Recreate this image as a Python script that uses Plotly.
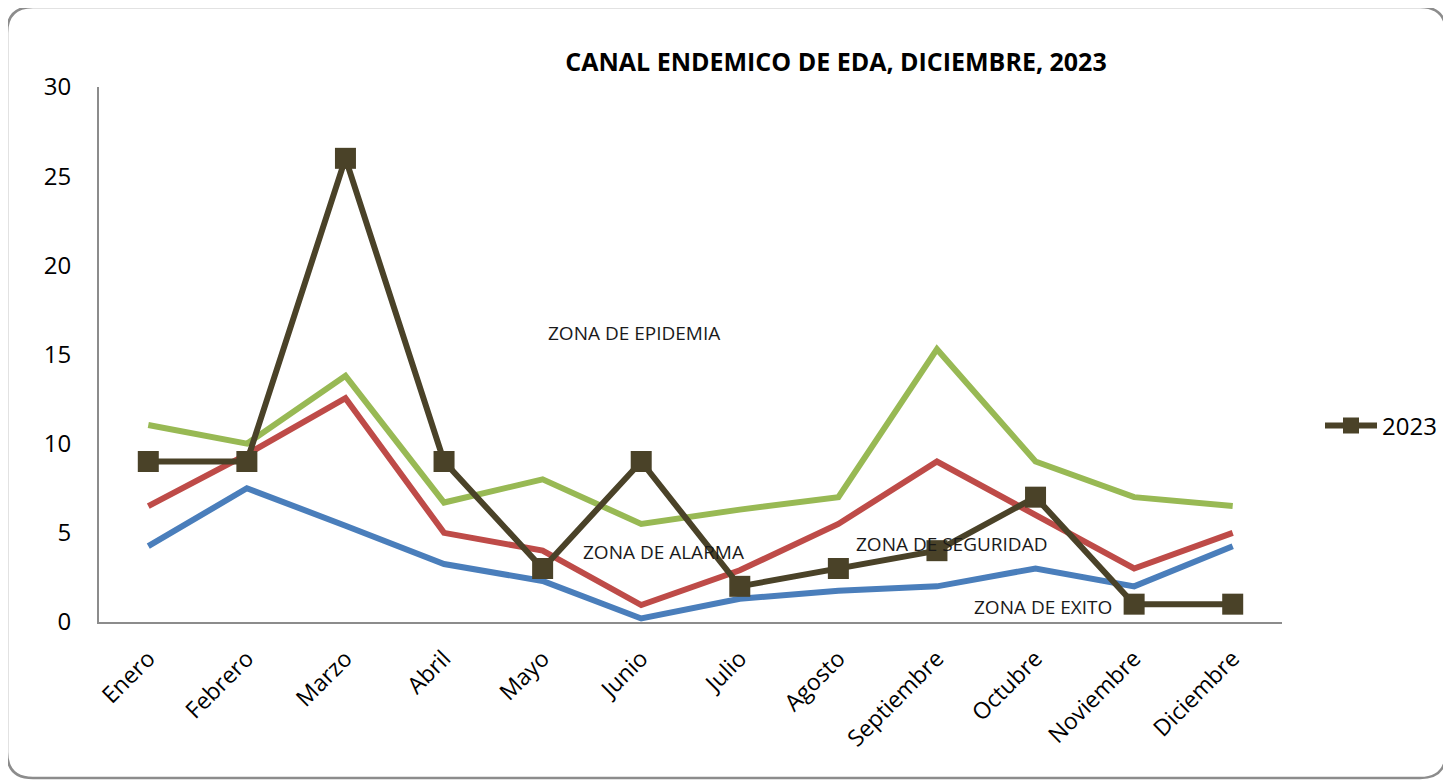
import plotly.graph_objects as go

meses = ["Enero", "Febrero", "Marzo", "Abril", "Mayo", "Junio", "Julio",
         "Agosto", "Septiembre", "Octubre", "Noviembre", "Diciembre"]
zona_exito = [4.25, 7.5, 5.4, 3.25, 2.3, 0.2, 1.3, 1.75, 2.0, 3.0, 2.0, 4.25]
zona_seguridad = [6.5, 9.4, 12.55, 5.0, 4.0, 0.95, 2.9, 5.5, 9.0, 6.0, 3.0, 5.0]
zona_alarma = [11.05, 10.0, 13.8, 6.7, 8.0, 5.5, 6.3, 7.0, 15.3, 9.0, 7.0, 6.5]
casos_2023 = [9, 9, 26, 9, 3, 9, 2, 3, 4, 7, 1, 1]

# page body adds an 8px margin; express reference pixel positions minus that offset
OFF = 8
W, H = 1451 - OFF, 781 - OFF
L, R, T, B = 99 - OFF, 1282 - OFF, 87 - OFF, 622 - OFF

fig = go.Figure()
fig.add_trace(go.Scatter(x=meses, y=zona_exito, mode="lines", showlegend=False,
                         line=dict(color="#4a7ebb", width=6)))
fig.add_trace(go.Scatter(x=meses, y=zona_seguridad, mode="lines", showlegend=False,
                         line=dict(color="#be4b48", width=6)))
fig.add_trace(go.Scatter(x=meses, y=zona_alarma, mode="lines", showlegend=False,
                         line=dict(color="#98b954", width=6)))
fig.add_trace(go.Scatter(x=meses, y=casos_2023, mode="lines+markers", name="2023",
                         line=dict(color="#4a4228", width=6),
                         marker=dict(symbol="square", size=21, color="#4a4228")))

def px_x(px):
    return (px - OFF - L) / (R - L)

def px_y(py):
    return (B - (py - OFF)) / (B - T)

# rounded border
x0, x1, y0, y1, r = 7, 1446, 7, 778, 26
path = (f"M {px_x(x0+r)},{px_y(y0)} L {px_x(x1-r)},{px_y(y0)} "
        f"Q {px_x(x1)},{px_y(y0)} {px_x(x1)},{px_y(y0+r)} "
        f"L {px_x(x1)},{px_y(y1-r)} Q {px_x(x1)},{px_y(y1)} {px_x(x1-r)},{px_y(y1)} "
        f"L {px_x(x0+r)},{px_y(y1)} Q {px_x(x0)},{px_y(y1)} {px_x(x0)},{px_y(y1-r)} "
        f"L {px_x(x0)},{px_y(y0+r)} Q {px_x(x0)},{px_y(y0)} {px_x(x0+r)},{px_y(y0)} Z")
fig.add_shape(type="path", path=path, xref="paper", yref="paper",
              line=dict(color="#8c8c8c", width=2.5), layer="below")

font_family = "Open Sans, Liberation Sans, sans-serif"
ann_font = dict(family=font_family, size=19, color="#1a1a1a")
for text, xi, yv in [("ZONA DE EPIDEMIA", 4.93, 16.2),
                     ("ZONA DE ALARMA", 5.23, 3.93),
                     ("ZONA DE SEGURIDAD", 8.15, 4.37),
                     ("ZONA DE EXITO", 9.08, 0.84)]:
    fig.add_annotation(x=xi, y=yv, xref="x", yref="y", text=text,
                       showarrow=False, font=ann_font)

fig.update_layout(
    width=W, height=H,
    margin=dict(l=L, r=W - R, t=T, b=H - B, autoexpand=False),
    paper_bgcolor="white", plot_bgcolor="white",
    title=dict(text="<b>CANAL ENDEMICO DE EDA, DICIEMBRE, 2023</b>",
               x=px_x(836), xref="paper", xanchor="center",
               y=1 - (62 - OFF) / H, yref="container", yanchor="middle",
               font=dict(family=font_family, size=25, color="black")),
    xaxis=dict(type="category", range=[-0.5, 11.5], showgrid=False,
               showline=True, linecolor="#8c8c8c", linewidth=2,
               tickangle=-45, ticks="", ticklabelstandoff=12,
               tickfont=dict(family=font_family, size=23, color="black")),
    yaxis=dict(range=[0, 30], dtick=5, showgrid=False, zeroline=False,
               showline=True, linecolor="#8c8c8c", linewidth=2,
               ticks="", ticklabelstandoff=21,
               tickfont=dict(family=font_family, size=24, color="black")),
    legend=dict(x=px_x(1320), y=px_y(426), xanchor="left", yanchor="middle",
                itemwidth=52,
                font=dict(family=font_family, size=24, color="black"),
                bgcolor="rgba(0,0,0,0)"),
)

fig.write_html("out.html")
